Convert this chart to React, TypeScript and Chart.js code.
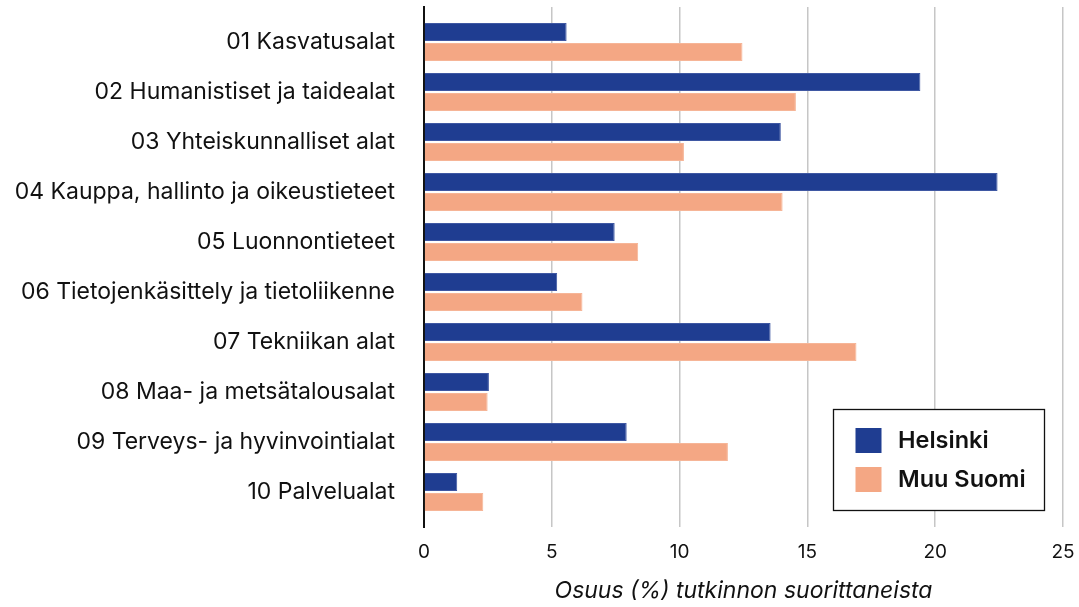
import React, { useEffect, useRef } from "react";
import { Chart, registerables } from "chart.js";

Chart.register(...registerables);

const categories = [
  "01 Kasvatusalat",
  "02 Humanistiset ja taidealat",
  "03 Yhteiskunnalliset alat",
  "04 Kauppa, hallinto ja oikeustieteet",
  "05 Luonnontieteet",
  "06 Tietojenkäsittely ja tietoliikenne",
  "07 Tekniikan alat",
  "08 Maa- ja metsätalousalat",
  "09 Terveys- ja hyvinvointialat",
  "10 Palvelualat",
];

const helsinki = [5.58, 19.42, 13.96, 22.44, 7.46, 5.21, 13.56, 2.54, 7.93, 1.3];
const muuSuomi = [12.46, 14.55, 10.17, 14.03, 8.38, 6.2, 16.92, 2.49, 11.89, 2.32];

const seriesNames = ["Helsinki", "Muu Suomi"];
const seriesColors = ["#1f3d91", "#f4a784"];
const seriesBorders = ["#3f58a3", "#f6b597"];
const xTicks = [0, 5, 10, 15, 20, 25];
const xTitle = "Osuus (%) tutkinnon suorittaneista";

const FONT = "Inter, Roboto, sans-serif";

const boxLegend = {
  id: "boxLegend",
  afterDraw(chart: any) {
    const ctx = chart.ctx;
    const area = chart.chartArea;
    const w = 211;
    const h = 101;
    const right = area.right - 19;
    const bottom = area.bottom - 17;
    const left = right - w;
    const top = bottom - h;
    ctx.save();
    ctx.fillStyle = "#ffffff";
    ctx.fillRect(left, top, w, h);
    ctx.strokeStyle = "#111111";
    ctx.lineWidth = 1.3;
    ctx.strokeRect(left + 0.5, top + 0.5, w, h);
    chart.data.datasets.forEach((ds: any, i: number) => {
      const sy = top + 19 + i * 39;
      ctx.fillStyle = ds.backgroundColor;
      ctx.fillRect(left + 22.5, sy, 26, 25);
      ctx.fillStyle = "#111111";
      ctx.font = `600 23.5px ${FONT}`;
      ctx.textBaseline = "middle";
      ctx.textAlign = "left";
      ctx.fillText(ds.label, left + 65, sy + 13);
    });
    ctx.restore();
  },
};

export default function App() {
  const ref = useRef<HTMLCanvasElement | null>(null);

  useEffect(() => {
    if (!ref.current) return;
    const chart = new Chart(ref.current, {
      type: "bar",
      data: {
        datasets: [
          {
            label: seriesNames[0],
            data: helsinki.map((v, i) => ({ x: v, y: i })),
            backgroundColor: seriesColors[0],
            borderColor: seriesBorders[0],
            borderWidth: 1,
            categoryPercentage: 0.8,
            barPercentage: 0.9,
          },
          {
            label: seriesNames[1],
            data: muuSuomi.map((v, i) => ({ x: v, y: i })),
            backgroundColor: seriesColors[1],
            borderColor: seriesBorders[1],
            borderWidth: 1,
            categoryPercentage: 0.8,
            barPercentage: 0.9,
          },
        ],
      },
      options: {
        indexAxis: "y",
        responsive: false,
        animation: false,
        devicePixelRatio: 1,
        layout: { padding: { top: 7, right: 16, left: 0, bottom: 0 } },
        plugins: {
          legend: { display: false },
          tooltip: { enabled: false },
        },
        scales: {
          y: {
            type: "linear",
            reverse: true,
            offset: false,
            min: -0.7,
            max: 9.7,
            grid: { display: false, drawTicks: false, offset: false },
            border: { display: true, color: "#111111", width: 2 },
            afterFit: (scale: any) => {
              scale.width = 424;
              scale.paddingTop = 0;
              scale.paddingBottom = 0;
            },
            afterBuildTicks: (scale: any) => {
              scale.ticks = categories.map((_, i) => ({ value: i }));
            },
            ticks: {
              padding: 29,
              color: "#111111",
              font: { family: FONT, size: 23 },
              autoSkip: false,
              callback: (v: any) => categories[v] ?? "",
            },
          },
          x: {
            type: "linear",
            min: 0,
            max: 25,
            afterFit: (scale: any) => {
              scale.height = 80;
              scale.paddingLeft = 0;
              scale.paddingRight = 0;
            },
            afterBuildTicks: (scale: any) => {
              scale.ticks = xTicks.map((v) => ({ value: v }));
            },
            grid: { color: "#c6c6c6", lineWidth: 1.5, drawTicks: false },
            border: { display: false },
            ticks: {
              padding: 13.5,
              color: "#111111",
              font: { family: FONT, size: 19 },
            },
            title: {
              display: true,
              text: xTitle,
              color: "#111111",
              font: { family: FONT, size: 23, style: "italic" },
              padding: { top: 0, bottom: 2.5 },
            },
          },
        },
      } as any,
      plugins: [boxLegend],
    });
    return () => chart.destroy();
  }, []);

  return (
    <div style={{ position: "fixed", left: 0, top: 0, width: 1079, height: 607, background: "#fff" }}>
      <canvas ref={ref} width={1079} height={607} />
    </div>
  );
}
